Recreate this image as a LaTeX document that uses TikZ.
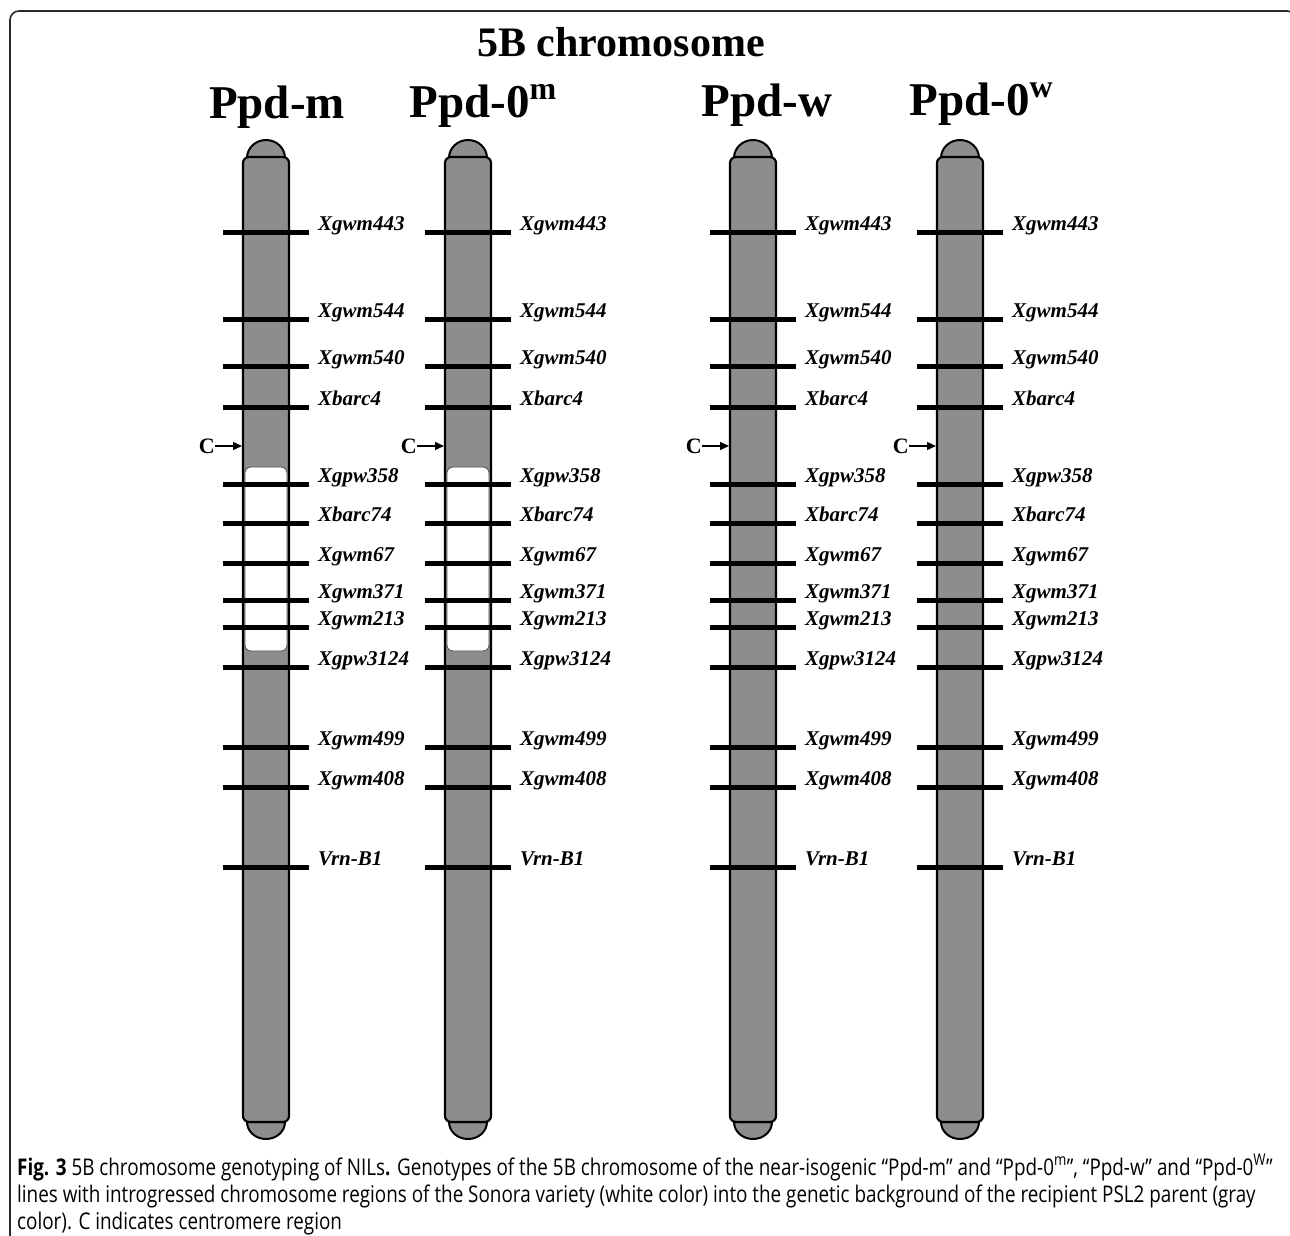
\documentclass[tikz,border=0pt]{standalone}
\usepackage{fontspec}
\setmainfont{Liberation Serif}
\newfontfamily\capfont[FakeStretch=0.82]{Open Sans}
\usetikzlibrary{arrows.meta,positioning}
\definecolor{chromgray}{RGB}{141,141,141}
\definecolor{framegray}{RGB}{40,40,40}
\tikzset{
  chrom/.style={draw=black,line width=2.2pt,fill=chromgray,rounded corners=6pt},
  telo/.style={draw=black,line width=2pt,fill=chromgray},
  introg/.style={draw=black!70,line width=0.8pt,fill=white,rounded corners=6pt},
  markbar/.style={line width=5pt,black},
  marklab/.style={anchor=base west,inner sep=0pt,font=\fontsize{21}{21}\selectfont\bfseries\itshape},
  linelab/.style={anchor=base,inner sep=0pt,font=\fontsize{47}{47}\selectfont\bfseries},
  cenlab/.style={anchor=east,inner sep=0pt,font=\fontsize{22}{22}\selectfont\bfseries},
  captext/.style={anchor=base west,inner sep=0pt,font=\capfont\fontsize{23}{23}\selectfont},
}
\newcommand{\supm}[1]{\raisebox{18pt}{\fontsize{32}{32}\selectfont #1}}

\begin{document}
\begin{tikzpicture}[x=1pt,y=-1pt,
    carrow/.style={-{Triangle[length=9pt,width=8pt]},line width=1.4pt},
  ]
  \useasboundingbox (0,0) rectangle (1290,1236);
  \clip (0,0) rectangle (1290,1236);
  % frame
  \draw[framegray,line width=1.6pt,rounded corners=9pt] (10,1250) -- (10,11) -- (1296,11) -- (1296,1250);
  % title
  \node[anchor=base,inner sep=0pt,font=\fontsize{42}{42}\selectfont\bfseries] (title) at (621,57) {5B chromosome};
  % line names
  \node[linelab] (ppdm) at (277,119) {Ppd-m};
  \node[linelab] (ppd0m) at (483,118) {Ppd-0\supm{m}};
  \node[linelab] (ppdw) at (767,117) {Ppd-w};
  \node[linelab] (ppd0w) at (981,116) {Ppd-0\supm{w}};
  % chromosomes
  \foreach \cx [count=\c] in {266,468,753,960} {
    \filldraw[telo] (\cx-19,158) arc[start angle=180,end angle=360,x radius=19,y radius=18] -- cycle;
    \filldraw[telo] (\cx-19,1122) arc[start angle=180,end angle=0,x radius=19,y radius=17] -- cycle;
    \draw[chrom] (\cx-23,157) rectangle (\cx+23,1122);
    \ifnum\c<3
      \draw[introg] (\cx-21,467) rectangle (\cx+21,651);
    \fi
    \foreach \y/\name [count=\i] in {232/Xgwm443,319/Xgwm544,366/Xgwm540,407/Xbarc4,
        484/Xgpw358,523/Xbarc74,563/Xgwm67,600/Xgwm371,627/Xgwm213,667/Xgpw3124,
        747/Xgwm499,787/Xgwm408,867/Vrn-B1} {
      \draw[markbar] (\cx-43,\y) -- (\cx+43,\y);
      \node[marklab] (m\c-\i) at (\cx+52,\y-2) {\name};
    }
    % centromere
    \node[cenlab] (c\c) at (\cx-51,446) {C};
    \coordinate (e\c) at (\cx-24,446);
    \draw[carrow] (c\c) -- (e\c);
  }
  % caption
  \node[captext] (cap1) at (17,1175) {\textbf{Fig. 3} 5B chromosome genotyping of NILs\textbf{.} Genotypes of the 5B chromosome of the near-isogenic “Ppd-m” and “Ppd-0\textsuperscript{m}”, “Ppd-w” and “Ppd-0\textsuperscript{W}”};
  \node[captext] (cap2) at (17,1202) {lines with introgressed chromosome regions of the Sonora variety (white color) into the genetic background of the recipient PSL2 parent (gray};
  \node[captext] (cap3) at (17,1229) {color). C indicates centromere region};
\end{tikzpicture}
\end{document}
